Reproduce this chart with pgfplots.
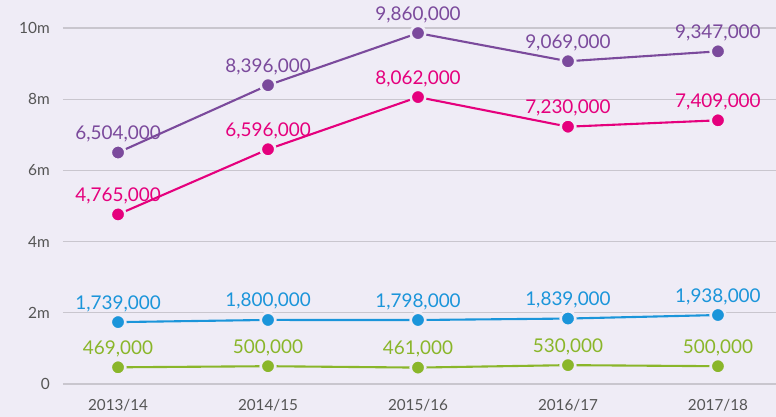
\documentclass[border=0pt]{standalone}
\usepackage{pgfplots}
\pgfplotsset{compat=1.18}
\usepackage{fontspec}
\setmainfont{Lato}
\definecolor{bg}{HTML}{EFECF6}
\definecolor{cpurple}{HTML}{7B4A9C}
\definecolor{cpink}{HTML}{E5007D}
\definecolor{cblue}{HTML}{1B95DA}
\definecolor{cgreen}{HTML}{8AB62A}
\definecolor{cgrid}{HTML}{C9C6CE}
\definecolor{ctick}{HTML}{555555}
\begin{document}
\begin{tikzpicture}
\fill[bg] (-63bp,-33bp) rectangle (713bp,384bp);
\begin{axis}[
  at={(0,0)}, anchor=south west,
  scale only axis, width=713bp, height=384bp,
  xmin=-0.367, xmax=4.387,
  ymin=0, ymax=10790000,
  clip=false,
  scaled y ticks=false,
  axis line style={draw=none},
  tick style={draw=none},
  ymajorgrids,
  grid style={cgrid, line width=1.3bp},
  ytick={0,2000000,4000000,6000000,8000000,10000000},
  yticklabels={0,2m,4m,6m,8m,10m},
  xtick={0,1,2,3,4},
  xticklabels={2013/14,2014/15,2015/16,2016/17,2017/18},
  yticklabel style={font=\fontsize{15.5}{16}\selectfont, text=ctick, anchor=east, inner sep=0pt, xshift=-13bp},
  xticklabel style={font=\fontsize{15.3}{16}\selectfont, text=ctick, anchor=north, inner sep=0pt, yshift=-15bp},
  /pgf/number format/assume math mode=true,
  nodes near coords,
  nodes near coords align=center,
  every node near coord/.append style={anchor=base, yshift=13bp, inner sep=0pt, font=\fontsize{19}{20}\selectfont},
  /pgf/number format/.cd, fixed, precision=0, 1000 sep={,},
]
\addplot[cpurple, line width=2.1bp, mark=*, mark size=7.3bp, mark options={fill=cpurple, draw=bg, line width=2.6bp}, nodes near coords style={text=cpurple}] table {
x y
0 6504000
1 8396000
2 9860000
3 9069000
4 9347000
};
\addplot[cpink, line width=2.1bp, mark=*, mark size=7.3bp, mark options={fill=cpink, draw=bg, line width=2.6bp}, nodes near coords style={text=cpink}] table {
x y
0 4765000
1 6596000
2 8062000
3 7230000
4 7409000
};
\addplot[cblue, line width=2.1bp, mark=*, mark size=7.3bp, mark options={fill=cblue, draw=bg, line width=2.6bp}, nodes near coords style={text=cblue}] table {
x y
0 1739000
1 1800000
2 1798000
3 1839000
4 1938000
};
\addplot[cgreen, line width=2.1bp, mark=*, mark size=7.3bp, mark options={fill=cgreen, draw=bg, line width=2.6bp}, nodes near coords style={text=cgreen}] table {
x y
0 469000
1 500000
2 461000
3 530000
4 500000
};
\end{axis}
\pgfresetboundingbox
\path (-63bp,-33bp) rectangle (713bp,384bp);
\end{tikzpicture}
\end{document}
